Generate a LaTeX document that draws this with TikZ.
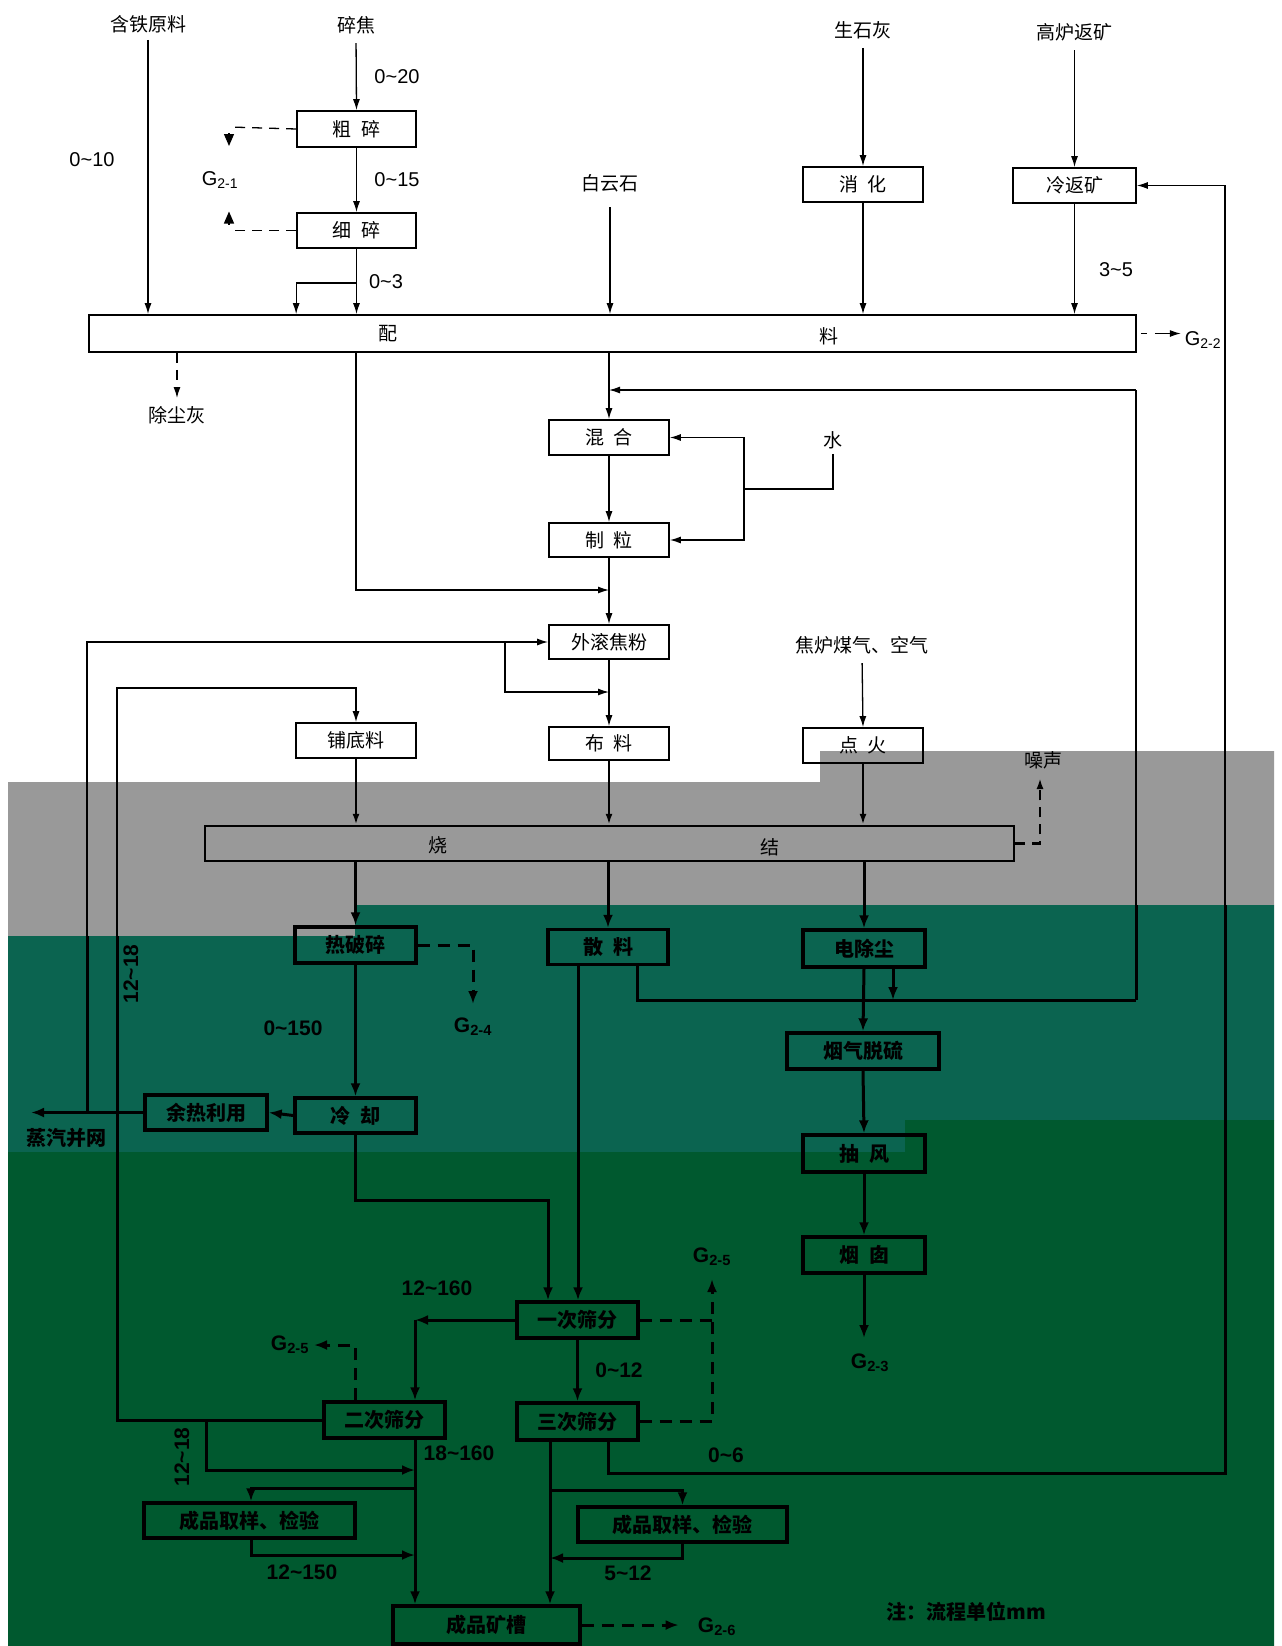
\documentclass[tikz,border=0pt]{standalone}
\usepackage{fontspec}
\setmainfont{Noto Sans CJK SC}
\newfontfamily\latf{Liberation Sans}
\usetikzlibrary{arrows.meta,calc}
\definecolor{bggray}{HTML}{999999}
\definecolor{bgteal}{HTML}{0B6450}
\definecolor{bgdark}{HTML}{00592F}
\newcommand\wv{\textasciitilde}
\newcommand\gsub[1]{G\textsubscript{#1}}
\newcommand\gp{\hspace{.5em}}
\tikzset{
 lt/.style={line width=1.3pt},
 lg/.style={line width=2.2pt},
 ld/.style={line width=3pt},
 ar/.style={-{Latex[length=11pt,width=7pt]}},
 arb/.style={-{Latex[length=13pt,width=10pt]}},
 art/.style={-{Triangle[length=12pt,width=10pt]}},
 dsh/.style={dash pattern=on 10pt off 7pt},
 dshb/.style={dash pattern=on 12pt off 8pt},
 bx/.style={draw, line width=1.7pt, inner sep=0pt, minimum width=120pt, minimum height=35pt, font=\fontsize{19}{19}\selectfont},
 bxg/.style={bx, line width=2.4pt},
 bxb/.style={draw, line width=3.4pt, inner sep=0pt, minimum width=121pt, minimum height=36pt, font=\bfseries\fontsize{20}{20}\selectfont},
 lbl/.style={inner sep=1pt, font=\fontsize{19}{19}\selectfont},
 lblb/.style={inner sep=1pt, font=\bfseries\fontsize{20}{20}\selectfont},
 num/.style={inner sep=1pt, font=\latf\fontsize{20}{20}\selectfont},
 numb/.style={inner sep=1pt, font=\latf\bfseries\fontsize{21}{21}\selectfont},
}
\begin{document}
\begin{tikzpicture}[x=1pt,y=-1pt]
\useasboundingbox (0,0) rectangle (1282,1646);
% backgrounds
\fill[white] (0,0) rectangle (1282,1646);
\fill[bggray] (8,782) -- (820,782) -- (820,751) -- (1274,751) -- (1274,905) -- (355,905) -- (355,936) -- (8,936) -- cycle;
\fill[bgteal] (8,936) -- (355,936) -- (355,905) -- (1274,905) -- (1274,1120) -- (905,1120) -- (905,1152) -- (8,1152) -- cycle;
\fill[bgdark] (8,1152) -- (905,1152) -- (905,1120) -- (1274,1120) -- (1274,1646) -- (8,1646) -- cycle;

% boxes
\node[bx, minimum width=119pt, minimum height=36pt] (csh) at (356.5,129) {粗\gp 碎};
\node[bx, minimum width=119pt] (xs) at (356.5,230.5) {细\gp 碎};
\node[bx, minimum width=1047pt, minimum height=37pt] (pl) at (612.5,333.5) {};
\node[lbl] at (388,334) {配};
\node[lbl] at (829,336) {料};
\node[bx] (xh) at (863,184.5) {消\gp 化};
\node[bx, minimum width=123pt] (lfk) at (1074.5,185.5) {冷返矿};
\node[bx] (hh) at (609,437.5) {混\gp 合};
\node[bx, minimum height=34pt] (zl) at (609,540) {制\gp 粒};
\node[bx, minimum height=34pt] (wg) at (609,642) {外滚焦粉};
\node[bx] (pdl) at (356,740.5) {铺底料};
\node[bx, minimum height=33pt] (bl) at (609,743.5) {布\gp 料};
\node[bx] (dh) at (863,745.5) {点\gp 火};
\node[bxg, minimum width=809pt] (sj) at (609.5,843.5) {};
\node[lbl] at (438,845) {烧};
\node[lbl] at (770,847) {结};
\node[bxb] (rps) at (355.5,945) {热破碎};
\node[bxb, minimum width=120pt, minimum height=35pt] (sl) at (608,947) {散\gp 料};
\node[bxb, minimum width=122pt, minimum height=37pt] (dcc) at (864,948.5) {电除尘};
\node[bxb, minimum width=152pt] (yqts) at (863,1051) {烟气脱硫};
\node[bxb, minimum height=35pt] (lq) at (355.5,1115.5) {冷\gp 却};
\node[bxb, minimum width=122pt, minimum height=35pt] (yrly) at (206,1112.5) {余热利用};
\node[bxb, minimum width=122pt, minimum height=37pt] (cf) at (864,1153.5) {抽\gp 风};
\node[bxb, minimum width=122pt] (yc) at (864,1255) {烟\gp 囱};
\node[bxb] (ycsf) at (577.5,1320) {一次筛分};
\node[bxb, minimum height=37pt] (scsf) at (577.5,1421.5) {三次筛分};
\node[bxb] (ecsf) at (384.5,1420) {二次筛分};
\node[bxb, minimum width=211pt, minimum height=35pt] (cqL) at (249.5,1520.5) {成品取样、检验};
\node[bxb, minimum width=209pt, minimum height=35pt] (cqR) at (682.5,1524.5) {成品取样、检验};
\node[bxb, minimum width=187pt, minimum height=38pt] (cpkc) at (486.5,1625) {成品矿槽};

% labels
\node[lbl] (hty) at (148,24) {含铁原料};
\node[lbl] (sjl) at (356,25) {碎焦};
\node[lbl] (ssh) at (863,30) {生石灰};
\node[lbl] (gl) at (1074.5,32) {高炉返矿};
\node[lbl] (byss) at (610,183) {白云石};
\node[lbl] (dust) at (177,415) {除尘灰};
\node[lbl] (water) at (833,440) {水};
\node[lbl] (jlmq) at (862,645) {焦炉煤气、空气};
\node[lbl] (noise) at (1043,760) {噪声};
\node[lblb] (steam) at (67,1138) {蒸汽并网};
\node[lblb] (note) at (966,1612) {注：流程单位mm};

\node[num] at (397,77) {0\wv20};
\node[num] at (92,160) {0\wv10};
\node[num] at (397,180) {0\wv15};
\node[num] at (386,282) {0\wv3};
\node[num] at (1116,270) {3\wv5};
\node[numb] at (293,1028) {0\wv150};
\node[numb, rotate=90] at (131,974) {12\wv18};
\node[numb] at (437,1288) {12\wv160};
\node[numb] at (619,1370) {0\wv12};
\node[numb] at (459,1453) {18\wv160};
\node[numb] at (726,1455) {0\wv6};
\node[numb] at (628,1573) {5\wv12};
\node[numb] at (302,1572) {12\wv150};
\node[numb, rotate=90] at (182,1457) {12\wv18};

\node[num] at (220,180) {\gsub{2-1}};
\node[num] at (1203,340) {\gsub{2-2}};
\node[numb] at (473,1027) {\gsub{2-4}};
\node[numb] at (870,1363) {\gsub{2-3}};
\node[numb] at (712,1257) {\gsub{2-5}};
\node[numb] at (290,1345) {\gsub{2-5}};
\node[numb] at (717,1627) {\gsub{2-6}};

% ---- top connectors
\draw[lt,ar,shorten <=6pt] (hty.south) -- (hty.south |- pl.north);
\draw[lt,ar,shorten <=8pt] (sjl.south) -- (csh.north);
\draw[lt,ar] (csh.south) -- (xs.north);
\draw[lt,ar] (xs.south) -- (xs.south |- pl.north);
\coordinate (b03) at (356.5,283);
\draw[lt,ar] (b03) -| (xs.south west |- pl.north);
\coordinate (g1) at (229,127);
\coordinate (g2) at (229,230.5);
\draw[lt,dsh] (csh.west) -- (g1);
\draw[lt,dsh] (xs.west) -- (g2);
\draw[lt,art] ($(g1)+(0,6)$) -- ($(g1)+(0,19)$);
\draw[lt,art] ($(g2)+(0,-6)$) -- ($(g2)+(0,-19)$);
\draw[lt,ar,shorten <=14pt] (byss.south) -- (byss.south |- pl.north);
\draw[lt,ar,shorten <=8pt] (ssh.south) -- (xh.north);
\draw[lt,ar] (xh.south) -- (xh.south |- pl.north);
\draw[lt,ar,shorten <=8pt] (gl.south) -- (lfk.north);
\draw[lt,ar] (lfk.south) -- (lfk.south |- pl.north);
\draw[lt] ([xshift=4pt]pl.east) -- ([xshift=10pt]pl.east);
\draw[lt,ar] ([xshift=18pt]pl.east) -- ([xshift=44pt]pl.east);
\coordinate (dd) at (177,398);
\draw[lt,dsh,ar] (pl.south -| dd) -- (dd);

\draw[lt,ar] (pl.south -| hh.north) -- (hh.north);
\coordinate (j1) at (356,590);
\draw[lt,ar] (pl.south -| j1) -- (j1) -- (j1 -| hh.north);
\draw[lt,ar] (hh.south) -- (zl.north);
\draw[lt,ar] (zl.south) -- (wg.north);
\coordinate (w1) at (833,489);
\coordinate (w2) at (744,489);
\draw[lt] ([yshift=-4pt]water.south) -- (w1) -- (w2);
\draw[lt,ar] (w2) |- (hh.east);
\draw[lt,ar] (w2) |- (zl.east);
\coordinate (fbR) at (1136,390);
\coordinate (fbG) at (1136,751);
\coordinate (fbT) at (1136,905);
\coordinate (fbB) at (1136,1000);
\draw[lt,ar] (fbR) -- (fbR -| hh.north);
\draw[lt] (fbR) -- (fbG);
\draw[lg] (fbG) -- (fbT);
\draw[ld] (fbT) -- (fbB);
\draw[ld] ([xshift=29pt]sl.south) |- (fbB);
\draw[ld,arb] ([xshift=29pt]dcc.south) -- ([xshift=29pt]dcc.south |- fbB);

% feed line to wg
\coordinate (st) at (87,1112.5);
\coordinate (stT) at (87,936);
\coordinate (stG) at (87,782);
\draw[ld] (st) -- (stT);
\draw[lg] (stT) -- (stG);
\draw[lt,ar] (stG) |- (wg.west);
\coordinate (b2) at (505,642);
\coordinate (b3) at (505,692);
\draw[lt,ar] (b2) -- (b3) -- (b3 -| bl.north);
\draw[lt,ar] (wg.south) -- (bl.north);

% 12~18 line to pdl
\coordinate (p1) at (117,1420);
\coordinate (pT) at (117,936);
\coordinate (pG) at (117,782);
\coordinate (p2) at (117,688);
\draw[ld] (ecsf.west) -- (p1) -- (pT);
\draw[lg] (pT) -- (pG);
\draw[lt,ar] (pG) -- (p2) -| (pdl.north);

% into sintering
\draw[lg,ar] (pdl.south) -- (pdl.south |- sj.north);
\draw[lg,ar] (bl.south) -- (bl.south |- sj.north);
\draw[lg,ar] (dh.south) -- (dh.south |- sj.north);
\draw[lt,ar,shorten <=8pt] (jlmq.south) -- (dh.north);
\coordinate (nz1) at (1040,843.5);
\coordinate (nz2) at (1040,778);
\draw[lg,dsh,ar] (sj.east) -- (nz1) -- (nz2);

% out of sintering
\draw[ld,arb] (sj.south -| rps.north) -- (rps.north);
\draw[ld,arb] (sj.south -| sl.north) -- (sl.north);
\draw[ld,arb] (sj.south -| dcc.north) -- (dcc.north);
\coordinate (g4a) at (473,945);
\coordinate (g4b) at (473,1004);
\draw[ld,dshb,arb] (rps.east) -- (g4a) -- (g4b);
\draw[ld,arb] (rps.south) -- (lq.north);
\draw[ld,arb] (lq.west) -- (yrly.east);
\coordinate (stx) at (31,1112.5);
\draw[ld,arb] (yrly.west) -- (stx);
\coordinate (c1) at (355.5,1200);
\coordinate (c2) at (548,1200);
\draw[ld,arb] (lq.south) -- (c1) -- (c2) -- (c2 |- ycsf.north);
\draw[ld,arb] ([xshift=-30pt]sl.south) -- ([xshift=-30pt]sl.south |- ycsf.north);
\draw[ld,arb] (dcc.south) -- (yqts.north);
\draw[ld,arb] (yqts.south) -- (cf.north);
\draw[ld,arb] (cf.south) -- (yc.north);
\coordinate (g3) at (864,1338);
\draw[ld,arb] (yc.south) -- (g3);

% screening
\coordinate (k1) at (415,1320);
\draw[ld,arb] (ycsf.west) -- (k1);
\draw[ld,arb] (k1) -- (k1 |- ecsf.north);
\draw[ld,arb] (ycsf.south) -- (scsf.north);
\coordinate (g5a) at (712,1320);
\coordinate (g5b) at (712,1421.5);
\coordinate (g5c) at (712,1279);
\draw[ld,dshb] (ycsf.east) -- (g5a);
\draw[ld,dshb,arb] (scsf.east) -- (g5b) -- (g5c);
\coordinate (rt) at (1225,1473);
\coordinate (rtT) at (1225,905);
\coordinate (rtG) at (1225,751);
\draw[ld] ([xshift=30.5pt]scsf.south) |- (rt) -- (rtT);
\draw[lg] (rtT) -- (rtG);
\draw[lt,ar] (rtG) |- (lfk.east);
\coordinate (k2) at (550,1490);
\coordinate (k3) at (682.5,1490);
\draw[ld,arb] ([xshift=-27.5pt]scsf.south) -- ([xshift=-27.5pt]scsf.south |- cpkc.north);
\draw[ld,arb] (k2) -- (k3) -- (cqR.north);
\coordinate (k4) at (682.5,1558);
\draw[ld,arb] (cqR.south) -- (k4) -- (k4 -| k2);
\draw[ld,dshb,arb] (cpkc.east) -- ([xshift=97pt]cpkc.east);
\draw[ld,arb] ([xshift=30.5pt]ecsf.south) -- ([xshift=30.5pt]ecsf.south |- cpkc.north);
\coordinate (e1) at (355,1345);
\coordinate (e2) at (314,1345);
\draw[ld,dshb,arb] ([xshift=-29.5pt]ecsf.north) -- (e1) -- (e2);
\coordinate (m1) at (206,1420);
\coordinate (m2) at (206,1470);
\coordinate (m3) at (415,1470);
\draw[ld,arb] (m1) -- (m2) -- (m3);
\coordinate (m4) at (415,1488);
\coordinate (m5) at (251,1488);
\draw[ld,arb] (m4) -- (m5) -- (m5 |- cqL.north);
\coordinate (m6) at (251,1555);
\coordinate (m7) at (415,1555);
\draw[ld,arb] (m5 |- cqL.south) -- (m6) -- (m7);
\end{tikzpicture}
\end{document}
